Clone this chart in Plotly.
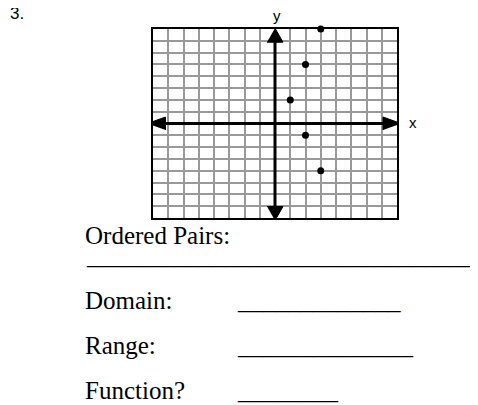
"""worksheet graph: plotted points on a 16x16 grid with questions below"""

import plotly.graph_objects as go

# data
x_points = [3, 2, 1, 2, 3]
y_points = [8, 5, 2, -1, -4]
grid_min = -8
grid_max = 8
question_labels = ["Ordered Pairs:", "Domain:", "Range:", "Function?"]
answer_blanks = ["_" * 31, "_" * 13, "_" * 14, "_" * 8]

# page has an 8px body margin, so work in page pixels and shift
OFF = 8
W, H = 478 - OFF, 405 - OFF
L, R, T, B = 153, 397, 29, 218  # plot area, page pixels
sx = (R - L) / (grid_max - grid_min)  # px per unit
sy = (B - T) / (grid_max - grid_min)


def px_x(p):
    return (p - L) / (R - L)


def px_y(p):
    return (B - p) / (B - T)


fig = go.Figure()

# axis tips (a little past the grid, like the worksheet)
x_right = grid_max + 4 / sx
x_left = grid_min - 5.5 / sx
y_top = grid_max + 0.8 / sy
y_bottom = grid_min - 2.5 / sy

axis_line = dict(color='black', width=3)
fig.add_trace(go.Scatter(x=[x_left + 4 / sx, x_right - 4 / sx], y=[0, 0], mode='lines',
                         line=axis_line, cliponaxis=False, hoverinfo='skip'))
fig.add_trace(go.Scatter(x=[0, 0], y=[y_bottom + 4 / sy, y_top - 4 / sy], mode='lines',
                         line=axis_line, cliponaxis=False, hoverinfo='skip'))

# arrow heads: length and half width in pixels
hl_x, hw_x = 18, 6.5
hl_y, hw_y = 14, 8
heads = [
    ([x_right, x_right - hl_x / sx, x_right - hl_x / sx], [0, hw_x / sy, -hw_x / sy]),
    ([x_left, x_left + hl_x / sx, x_left + hl_x / sx], [0, hw_x / sy, -hw_x / sy]),
    ([0, hw_y / sx, -hw_y / sx], [y_top, y_top - hl_y / sy, y_top - hl_y / sy]),
    ([0, hw_y / sx, -hw_y / sx], [y_bottom, y_bottom + hl_y / sy, y_bottom + hl_y / sy]),
]
for hx, hy in heads:
    fig.add_trace(go.Scatter(x=hx, y=hy, mode='lines', fill='toself', fillcolor='black',
                             line=dict(color='black', width=1), cliponaxis=False,
                             hoverinfo='skip'))

# the points
fig.add_trace(go.Scatter(
    x=x_points, y=y_points, mode='markers',
    marker=dict(color='black', size=7),
    cliponaxis=False, hoverinfo='skip',
))

sans = dict(family='Liberation Sans, Arial, sans-serif', color='black')
serif = dict(family='Liberation Serif, Times New Roman, serif', size=25, color='black')

# axis names and question number
fig.add_annotation(x=px_x(277), y=px_y(15.5), xref='paper', yref='paper', text='y',
                   xanchor='center', yanchor='middle', showarrow=False, font=dict(size=15, **sans))
fig.add_annotation(x=px_x(412.7), y=px_y(122.8), xref='paper', yref='paper', text='x',
                   xanchor='center', yanchor='middle', showarrow=False, font=dict(size=15, **sans))
fig.add_annotation(x=px_x(8), y=px_y(13.6), xref='paper', yref='paper', text='3.',
                   xanchor='left', yanchor='middle', showarrow=False, font=dict(size=17, **sans))

# questions and answer blanks
label_y = [235, 300, 345.6, 390.6]
blank_pos = [(84, 255.8), (235, 300), (235, 345.6), (235, 390.6)]
for lab, ly in zip(question_labels, label_y):
    fig.add_annotation(x=px_x(83), y=px_y(ly), xref='paper', yref='paper', text=lab,
                       xanchor='left', yanchor='middle', showarrow=False, font=serif)
for blank, (bx, by) in zip(answer_blanks, blank_pos):
    fig.add_annotation(x=px_x(bx), y=px_y(by), xref='paper', yref='paper', text=blank,
                       xanchor='left', yanchor='middle', showarrow=False, font=serif)

grid_axis = dict(
    range=[grid_min, grid_max], tick0=0, dtick=1,
    showgrid=True, gridcolor='#999999', gridwidth=1.5,
    zeroline=False, showticklabels=False, ticks='',
    showline=True, mirror=True, linecolor='black', linewidth=1.5,
    fixedrange=True,
)

fig.update_layout(
    width=W, height=H,
    margin=dict(l=L - OFF, r=478 - R, t=T - OFF, b=405 - B, pad=0),
    paper_bgcolor='white', plot_bgcolor='white',
    xaxis=grid_axis, yaxis=grid_axis,
    showlegend=False,
)

fig.write_html("out.html")
